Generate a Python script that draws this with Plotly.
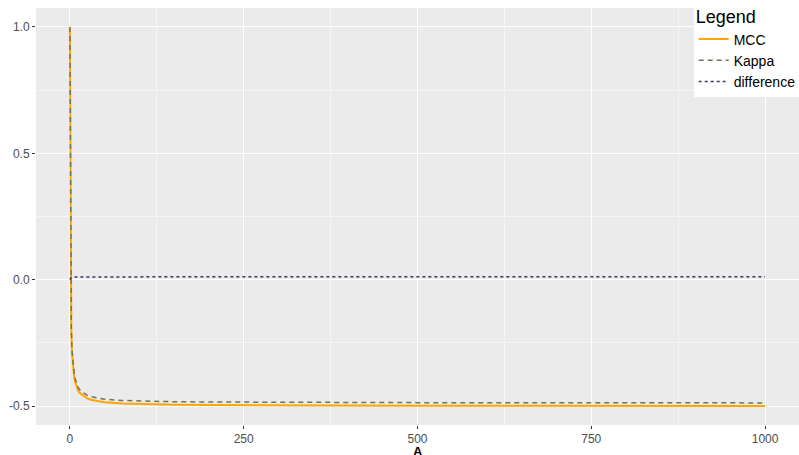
import plotly.graph_objects as go

A = [0, 1, 2, 3, 4, 5, 6, 7, 8, 10, 12, 15, 20, 25, 30, 40, 50, 75, 100,
     150, 200, 300, 400, 500, 600, 700, 800, 900, 1000]
mcc = [1.0, 0.0, -0.2, -0.29, -0.33, -0.36, -0.38, -0.40, -0.41, -0.43, -0.44,
       -0.45, -0.46, -0.47, -0.475, -0.48, -0.485, -0.49, -0.4925, -0.495,
       -0.496, -0.4975, -0.498, -0.4985, -0.4988, -0.499, -0.499, -0.4994, -0.4995]
kappa = [1.0, 0.008, -0.19, -0.279, -0.319, -0.348, -0.368, -0.388, -0.398,
         -0.418, -0.428, -0.438, -0.448, -0.458, -0.463, -0.468, -0.473, -0.478,
         -0.4805, -0.483, -0.484, -0.4855, -0.486, -0.4865, -0.4868, -0.487,
         -0.487, -0.4874, -0.4875]
difference = [0.0, 0.008, 0.01, 0.011, 0.011, 0.012, 0.012, 0.012, 0.012, 0.012,
              0.012, 0.012, 0.012, 0.012, 0.012, 0.012, 0.012, 0.012, 0.012,
              0.012, 0.012, 0.012, 0.012, 0.012, 0.012, 0.012, 0.012, 0.012, 0.012]

x_ticks = [0, 250, 500, 750, 1000]
y_ticks = [-0.5, 0.0, 0.5, 1.0]
y_tick_labels = ["-0.5", "0.0", "0.5", "1.0"]
x_title = "A"

fig = go.Figure()
fig.add_trace(go.Scatter(x=A, y=mcc, name="MCC", mode="lines",
                         line=dict(color="#FFA500", width=2)))
fig.add_trace(go.Scatter(x=A, y=kappa, name="Kappa", mode="lines",
                         line=dict(color="#707458", width=1.5, dash="5px,4px")))
fig.add_trace(go.Scatter(x=A, y=difference, name="difference", mode="lines",
                         line=dict(color="#3b3b5c", width=1.5, dash="dot")))

fig.add_annotation(text="<b>" + x_title + "</b>", x=500, xref="x",
                   y=-0.064, yref="paper", yanchor="middle", showarrow=False,
                   font=dict(size=13, color="black"))

fig.update_layout(
    width=799, height=455,
    margin=dict(l=36, r=0, t=8, b=30, autoexpand=False),
    paper_bgcolor="white",
    plot_bgcolor="#EBEBEB",
    font=dict(family="Liberation Sans, Arial, sans-serif", color="#4d4d4d"),
    showlegend=True,
    legend=dict(
        title=dict(text="Legend", font=dict(size=18, color="black")),
        font=dict(size=14, color="black"),
        x=0.862, xanchor="left", y=1.019, yanchor="top",
        bgcolor="white", borderwidth=0, tracegroupgap=0, itemwidth=30,
    ),
    xaxis=dict(
        range=[-48.8, 1048.8], tickvals=x_ticks, ticktext=[str(t) for t in x_ticks],
        automargin=False,
        showgrid=True, gridcolor="white", gridwidth=1.2,
        minor=dict(showgrid=True, gridcolor="#F5F5F5", gridwidth=0.6,
                   tickvals=[125, 375, 625, 875]),
        zeroline=False, ticks="outside", ticklen=3, tickcolor="#333333",
        tickfont=dict(size=12, color="#4d4d4d"),
    ),
    yaxis=dict(
        range=[-0.575, 1.075], tickvals=y_ticks, ticktext=y_tick_labels,
        automargin=False,
        showgrid=True, gridcolor="white", gridwidth=1.2,
        minor=dict(showgrid=True, gridcolor="#F5F5F5", gridwidth=0.6,
                   tickvals=[-0.25, 0.25, 0.75]),
        zeroline=False, ticks="outside", ticklen=3, tickcolor="#333333",
        tickfont=dict(size=12, color="#4d4d4d"),
    ),
)

fig.write_html("out.html",
               config={"displayModeBar": False},
               post_script="document.body.style.margin='0';document.body.style.overflow='hidden';")
